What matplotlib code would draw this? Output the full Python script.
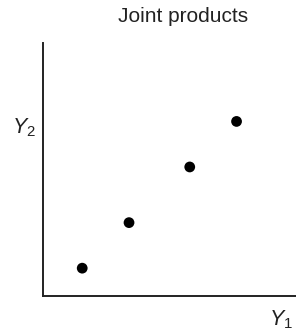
import matplotlib
matplotlib.use("Agg")
import matplotlib.pyplot as plt

# joint product combinations (Y1, Y2)
y1_values = [1.55, 3.4, 5.8, 7.65]
y2_values = [1.1, 2.9, 5.1, 6.9]

plt.rcParams['font.family'] = ['Liberation Sans', 'DejaVu Sans']
plt.rcParams['mathtext.fontset'] = 'custom'
plt.rcParams['mathtext.it'] = 'Liberation Sans:italic'
plt.rcParams['mathtext.rm'] = 'Liberation Sans'

fig = plt.figure(figsize=(2.96, 3.33), dpi=100)
ax = fig.add_axes([43 / 296, 37 / 333, 253 / 296, 253 / 333])

ax.scatter(y1_values, y2_values, s=60, color='black', edgecolors='none', zorder=3)

ax.set_xlim(0, 10)
ax.set_ylim(0, 10)
ax.set_xticks([])
ax.set_yticks([])
for side in ['top', 'right']:
    ax.spines[side].set_visible(False)
for side in ['left', 'bottom']:
    ax.spines[side].set_linewidth(1.4)
    ax.spines[side].set_color('#222222')

# title sits a bit right of the axes centre
fig.text(183 / 296, 1 - 16 / 333, 'Joint products', ha='center', va='center',
         fontsize=15, color='#222222')
fig.text(24 / 296, 1 - 128 / 333, r'$\mathit{Y}_2$', ha='center', va='center',
         fontsize=15.5, color='#222222')
fig.text(281 / 296, 1 - 320 / 333, r'$\mathit{Y}_1$', ha='center', va='center',
         fontsize=15.5, color='#222222')

fig.savefig('out.png', dpi=100)
